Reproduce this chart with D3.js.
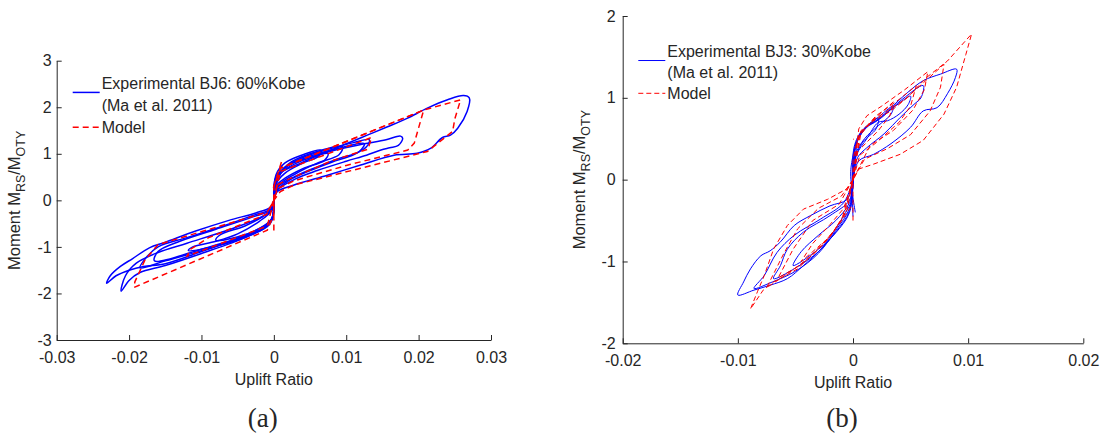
<!DOCTYPE html>
<html>
<head>
<meta charset="utf-8">
<script src="https://cdn.jsdelivr.net/npm/d3@7"></script>
<style>
  body { margin: 0; background: #fff; }
  svg { display: block; }
  text { font-family: "Liberation Sans", Arial, sans-serif; fill: #262626; }
</style>
</head>
<body>
<svg id="chart" width="1104" height="438"></svg>
<script>
// tick values
var bj6XTicks = [-0.03, -0.02, -0.01, 0, 0.01, 0.02, 0.03];
var bj6YTicks = [-3, -2, -1, 0, 1, 2, 3];
var bj3XTicks = [-0.02, -0.01, 0, 0.01, 0.02];
var bj3YTicks = [-2, -1, 0, 1, 2];

// (a) BJ6 60%Kobe - experimental loops
var bj6ExpPos = [
  [[0,0],[0.0002,0.3],[0.0009,0.58],[0.0037,0.80],[0.0074,1.05],[0.0101,1.22],[0.0129,1.40],[0.0157,1.58],[0.0184,1.76],[0.0212,1.98],[0.0240,2.16],[0.0262,2.25],[0.0270,2.2],[0.0267,1.91],[0.0254,1.55],[0.0244,1.40],[0.0233,1.35],[0.0217,1.12],[0.0198,1.01],[0.0166,0.97],[0.0120,0.76],[0.0074,0.54],[0.0028,0.33],[0.0005,0.19],[0,0]],
  [[0,0],[0.0003,0.35],[0.0012,0.62],[0.004,0.86],[0.008,1.06],[0.012,1.2],[0.0155,1.3],[0.0175,1.38],[0.0178,1.33],[0.0172,1.18],[0.0160,1.13],[0.0148,1.08],[0.0128,0.97],[0.0100,0.84],[0.006,0.64],[0.003,0.46],[0.0005,0.22],[0,0]],
  [[0,0],[0.0003,0.4],[0.0015,0.7],[0.004,0.92],[0.008,1.12],[0.011,1.24],[0.0132,1.30],[0.0128,1.15],[0.011,0.98],[0.008,0.82],[0.005,0.64],[0.002,0.42],[0.0003,0.2],[0,0]],
  [[0,0],[0.0003,0.45],[0.002,0.75],[0.005,0.95],[0.009,1.12],[0.0125,1.22],[0.0118,1.05],[0.009,0.90],[0.006,0.72],[0.003,0.52],[0.0005,0.28],[0,0]],
  [[0,0],[0.0003,0.45],[0.002,0.78],[0.005,1.0],[0.0095,1.15],[0.009,0.98],[0.006,0.80],[0.003,0.57],[0.0005,0.3],[0,0]],
  [[0,0],[0.0003,0.5],[0.002,0.75],[0.005,0.92],[0.0075,1.0],[0.007,0.86],[0.004,0.68],[0.0015,0.47],[0.0003,0.3],[0,0]],
  [[0,0],[0.0003,0.55],[0.0015,0.8],[0.004,0.98],[0.0065,1.08],[0.0062,0.95],[0.004,0.8],[0.0015,0.58],[0.0003,0.35],[0,0]]
];
var bj6ExpNeg = [
  [[0,0],[-0.0003,-0.4],[-0.0015,-0.62],[-0.0050,-0.82],[-0.0100,-1.10],[-0.0150,-1.36],[-0.0180,-1.42],[-0.0200,-1.5],[-0.0218,-1.62],[-0.0231,-1.78],[-0.0226,-1.62],[-0.0212,-1.42],[-0.0195,-1.25],[-0.0172,-1.02],[-0.0150,-0.90],[-0.0108,-0.66],[-0.0062,-0.43],[-0.0025,-0.27],[-0.0005,-0.15],[0,0]],
  [[0,0],[-0.0005,-0.5],[-0.0040,-0.80],[-0.0100,-1.14],[-0.0150,-1.40],[-0.0185,-1.55],[-0.0200,-1.72],[-0.0211,-1.95],[-0.0205,-1.62],[-0.0190,-1.35],[-0.0160,-1.12],[-0.0120,-0.92],[-0.0060,-0.62],[-0.0020,-0.38],[-0.0003,-0.2],[0,0]],
  [[0,0],[-0.0004,-0.45],[-0.004,-0.78],[-0.010,-1.08],[-0.015,-1.30],[-0.0185,-1.45],[-0.018,-1.30],[-0.016,-1.0],[-0.012,-0.80],[-0.007,-0.55],[-0.003,-0.33],[-0.0004,-0.18],[0,0]],
  [[0,0],[-0.0004,-0.42],[-0.004,-0.75],[-0.010,-1.05],[-0.0165,-1.30],[-0.016,-1.10],[-0.013,-0.88],[-0.008,-0.62],[-0.003,-0.36],[-0.0004,-0.2],[0,0]],
  [[0,0],[-0.0004,-0.45],[-0.004,-0.80],[-0.008,-0.98],[-0.0118,-1.08],[-0.0112,-1.0],[-0.008,-0.88],[-0.005,-0.72],[-0.002,-0.45],[-0.0003,-0.22],[0,0]],
  [[0,0],[-0.0003,-0.4],[-0.003,-0.68],[-0.008,-0.86],[-0.0075,-0.75],[-0.004,-0.55],[-0.0015,-0.35],[-0.0002,-0.2],[0,0]]
];
// (a) model
var bj6Model = [
  [[0,-0.65],[0,0.3],[0.0009,0.69],[0.0207,1.94],[0.0258,2.16],[0.0250,1.75],[0.0247,1.48],[0.0212,1.05],[0.0120,0.69],[0.0028,0.33],[0.0009,0.19],[0,0]],
  [[0,0],[0.0009,0.69],[0.0207,1.94],[0.0194,1.23],[0.0185,1.08],[0.010,0.75],[0.0028,0.42],[0.0005,0.25],[0,0]],
  [[0,0],[0.0009,0.62],[0.0135,1.35],[0.013,1.1],[0.008,0.85],[0.002,0.45],[0,0.3],[0.0012,0.9]],
  [[0,0],[0,-0.3],[-0.0009,-0.64],[-0.0193,-1.87],[-0.0192,-1.75],[-0.0178,-1.28],[-0.0160,-0.95],[-0.0147,-0.89],[-0.0009,-0.25],[0,0]],
  [[0,0],[-0.0009,-0.55],[-0.0120,-1.20],[-0.0115,-1.05],[-0.0090,-0.80],[-0.0010,-0.30],[0,0]]
];

// (b) BJ3 30%Kobe - experimental loops
var bj3ExpPos = [
  [[0,0],[0.0001,0.31],[0.0004,0.48],[0.0012,0.64],[0.0021,0.72],[0.0033,0.88],[0.0047,1.06],[0.0061,1.21],[0.0076,1.29],[0.0090,1.35],[0.0089,1.25],[0.0082,1.05],[0.0073,0.88],[0.0061,0.84],[0.0050,0.64],[0.0033,0.44],[0.0018,0.31],[0.0005,0.23],[0,0]],
  [[0,0],[0.0001,0.3],[0.0004,0.5],[0.0013,0.66],[0.0025,0.76],[0.0040,0.95],[0.0061,1.15],[0.0059,1.0],[0.0053,0.92],[0.0041,0.76],[0.0027,0.56],[0.0012,0.39],[0.0004,0.27],[0,0]],
  [[0,0],[0.0002,0.4],[0.0008,0.6],[0.002,0.72],[0.0035,0.88],[0.005,1.02],[0.0048,0.92],[0.004,0.80],[0.003,0.72],[0.0022,0.70],[0.0012,0.5],[0.0003,0.3],[0,0]],
  [[0,0],[0.0002,0.4],[0.001,0.62],[0.002,0.74],[0.0035,0.9],[0.0033,0.8],[0.0022,0.66],[0.001,0.5],[0.0002,0.3],[0,0]],
  [[0,-0.45],[0.0001,0.4],[0.0008,0.6],[0.0022,0.75],[0.002,0.62],[0.0008,0.45],[0,0.2]],
  [[0.0002,-0.4],[-0.0002,0.1],[0.0003,0.45],[-0.0001,-0.2],[0.0002,0.35]]
];
var bj3ExpNeg = [
  [[0,0],[-0.0002,-0.28],[-0.0008,-0.44],[-0.0017,-0.64],[-0.0028,-0.85],[-0.0043,-1.05],[-0.0057,-1.21],[-0.0072,-1.29],[-0.0086,-1.35],[-0.0100,-1.41],[-0.0095,-1.25],[-0.0089,-1.09],[-0.0080,-0.93],[-0.0072,-0.87],[-0.0063,-0.76],[-0.0051,-0.56],[-0.0037,-0.44],[-0.0020,-0.32],[-0.0005,-0.24],[0,0]],
  [[0,0],[-0.0003,-0.35],[-0.0015,-0.62],[-0.003,-0.9],[-0.005,-1.12],[-0.007,-1.25],[-0.0086,-1.33],[-0.0077,-1.17],[-0.0066,-0.89],[-0.0051,-0.68],[-0.0028,-0.48],[-0.0008,-0.28],[0,0]],
  [[0,0],[-0.0003,-0.38],[-0.0015,-0.64],[-0.003,-0.88],[-0.005,-1.08],[-0.0069,-1.21],[-0.0063,-1.05],[-0.0057,-0.85],[-0.0043,-0.64],[-0.0020,-0.44],[-0.0003,-0.25],[0,0]],
  [[0,0],[-0.0003,-0.4],[-0.0015,-0.65],[-0.003,-0.85],[-0.0052,-1.05],[-0.0045,-0.88],[-0.0030,-0.68],[-0.0015,-0.5],[-0.0003,-0.28],[0,0]]
];
// (b) model
var bj3Model = [
  [[0,-0.5],[0,0.23],[0.0002,0.39],[0.0007,0.60],[0.0018,0.72],[0.0033,0.84],[0.0047,1.0],[0.0064,1.25],[0.0082,1.45],[0.0103,1.78],[0.0098,1.53],[0.0090,1.13],[0.0079,0.80],[0.0061,0.48],[0.0041,0.31],[0.0018,0.19],[0.0005,0.13],[0,0]],
  [[0,0],[0.0007,0.58],[0.002,0.75],[0.0045,0.98],[0.0079,1.41],[0.0076,1.13],[0.0067,0.84],[0.005,0.55],[0.003,0.38],[0.001,0.25],[0,0]],
  [[0,0],[0.0006,0.56],[0.002,0.78],[0.004,0.98],[0.0055,1.15],[0.005,0.9],[0.004,0.7],[0.002,0.45],[0.0006,0.3],[0,0]],
  [[0,0],[0.0004,0.5],[0.0015,0.7],[0.0035,0.95],[0.0032,0.78],[0.0022,0.6],[0.0008,0.4],[0,0.5]],
  [[0,0],[0.0005,0.62],[0.0012,0.78],[0.0025,0.9],[0.0045,1.1],[0.0065,1.32],[0.0062,1.1],[0.0052,0.85],[0.0035,0.6],[0.0015,0.42],[0,0]],
  [[0,0],[-0.0005,-0.11],[-0.0022,-0.24],[-0.0043,-0.36],[-0.0057,-0.56],[-0.0069,-0.85],[-0.0077,-1.17],[-0.0083,-1.37],[-0.0089,-1.58],[-0.0078,-1.35],[-0.0069,-1.25],[-0.0048,-1.09],[-0.0031,-0.85],[-0.0017,-0.64],[-0.0005,-0.36],[0,0]],
  [[0,0],[-0.001,-0.2],[-0.003,-0.35],[-0.0048,-0.6],[-0.006,-0.9],[-0.0075,-1.32],[-0.006,-1.18],[-0.004,-0.98],[-0.0025,-0.78],[-0.001,-0.5],[0,0]],
  [[0,0],[-0.0012,-0.3],[-0.0035,-0.5],[-0.0052,-0.85],[-0.0065,-1.2],[-0.005,-1.08],[-0.0035,-0.92],[-0.002,-0.7],[-0.0008,-0.45],[0,0]],
  [[0,0],[-0.0008,-0.35],[-0.002,-0.55],[-0.0035,-0.78],[-0.0045,-1.0],[-0.0035,-0.88],[-0.0022,-0.72],[-0.001,-0.5],[0,-0.3]]
];

var svg = d3.select('#chart');

function tickText(d) {
  return String(d);
}

function drawPanel(opt) {
  var x = d3.scaleLinear().domain(opt.xDomain).range(opt.xRange);
  var y = d3.scaleLinear().domain(opt.yDomain).range(opt.yRange);
  var g = svg.append('g');

  var lineSmooth = d3.line()
    .x(function (d) { return x(d[0]); })
    .y(function (d) { return y(d[1]); })
    .curve(d3.curveCatmullRom.alpha(0.5));
  var lineStraight = d3.line()
    .x(function (d) { return x(d[0]); })
    .y(function (d) { return y(d[1]); });

  // experimental
  g.selectAll('path.exp')
    .data(opt.exp)
    .enter()
    .append('path')
    .attr('class', 'exp')
    .attr('d', lineSmooth)
    .attr('fill', 'none')
    .attr('stroke', '#0000ff')
    .attr('stroke-width', opt.lw)
    .attr('stroke-linejoin', 'round');

  // model
  g.selectAll('path.model')
    .data(opt.model)
    .enter()
    .append('path')
    .attr('class', 'model')
    .attr('d', lineStraight)
    .attr('fill', 'none')
    .attr('stroke', '#ff0000')
    .attr('stroke-width', opt.lw)
    .attr('stroke-dasharray', opt.dash);

  // axes
  var xAxis = d3.axisBottom(x).tickValues(opt.xTicks).tickFormat(tickText)
    .tickSizeInner(-5).tickSizeOuter(0).tickPadding(11.5);
  var yAxis = d3.axisLeft(y).tickValues(opt.yTicks).tickFormat(tickText)
    .tickSizeInner(-5).tickSizeOuter(0).tickPadding(opt.yPad);

  var gx = g.append('g')
    .attr('transform', 'translate(0,' + opt.yRange[0] + ')')
    .call(xAxis);
  var gy = g.append('g')
    .attr('transform', 'translate(' + opt.xRange[0] + ',0)')
    .call(yAxis);
  [gx, gy].forEach(function (a) {
    a.attr('font-family', '"Liberation Sans", Arial, sans-serif').attr('font-size', 16);
    a.selectAll('path, line').attr('stroke', '#262626');
    a.selectAll('text').attr('fill', '#262626');
  });

  // axis titles
  g.append('text')
    .attr('x', x(0))
    .attr('y', opt.yRange[0] + 45)
    .attr('text-anchor', 'middle')
    .attr('font-size', 16)
    .text('Uplift Ratio');

  var yl = g.append('text')
    .attr('transform', 'translate(' + opt.yLabelX + ',' + ((opt.yRange[0] + opt.yRange[1]) / 2) + ') rotate(-90)')
    .attr('text-anchor', 'middle')
    .attr('font-size', 16.5);
  yl.append('tspan').text('Moment M');
  yl.append('tspan').attr('font-size', 12.5).attr('dy', 5).text('RS');
  yl.append('tspan').attr('dy', -5).text('/M');
  yl.append('tspan').attr('font-size', 12.5).attr('dy', 5).text('OTY');

  // legend
  var lg = g.append('g');
  lg.append('line')
    .attr('x1', opt.legX).attr('x2', opt.legX + 27)
    .attr('y1', opt.legY[0] + (opt.legY[1] - opt.legY[0]) * 0.42)
    .attr('y2', opt.legY[0] + (opt.legY[1] - opt.legY[0]) * 0.42)
    .attr('stroke', '#0000ff').attr('stroke-width', opt.lw);
  lg.append('line')
    .attr('x1', opt.legX).attr('x2', opt.legX + 27)
    .attr('y1', opt.legY[2]).attr('y2', opt.legY[2])
    .attr('stroke', '#ff0000').attr('stroke-width', opt.lw)
    .attr('stroke-dasharray', opt.dash);
  var legText = [opt.legLabel, '(Ma et al. 2011)', 'Model'];
  lg.selectAll('text')
    .data(legText)
    .enter()
    .append('text')
    .attr('x', opt.legX + 29)
    .attr('y', function (d, i) { return opt.legY[i]; })
    .attr('dy', '0.35em')
    .attr('font-size', 16)
    .attr('fill', '#000')
    .text(function (d) { return d; });

  // panel caption
  g.append('text')
    .attr('x', x(0) - 11)
    .attr('y', 427)
    .attr('text-anchor', 'middle')
    .attr('font-size', 27)
    .attr('fill', '#000')
    .style('font-family', '"Liberation Serif", "Times New Roman", serif')
    .text(opt.caption);
}

drawPanel({
  xDomain: [-0.03, 0.03], xRange: [56.7, 491],
  yDomain: [-3, 3], yRange: [340, 60.7],
  xTicks: bj6XTicks, yTicks: bj6YTicks, yPad: 5,
  exp: bj6ExpPos.concat(bj6ExpNeg), model: bj6Model,
  lw: 1.5, dash: '6,4',
  yLabelX: 20,
  legX: 72.7, legY: [83.3, 105, 127.3],
  legLabel: 'Experimental BJ6: 60%Kobe',
  caption: '(a)'
});

drawPanel({
  xDomain: [-0.02, 0.02], xRange: [622.7, 1083.3],
  yDomain: [-2, 2], yRange: [343.3, 16],
  xTicks: bj3XTicks, yTicks: bj3YTicks, yPad: 7,
  exp: bj3ExpPos.concat(bj3ExpNeg), model: bj3Model,
  lw: 1, dash: '5,3',
  yLabelX: 585,
  legX: 638.3, legY: [51.7, 72.7, 93.3],
  legLabel: 'Experimental BJ3: 30%Kobe',
  caption: '(b)'
});
</script>
</body>
</html>
